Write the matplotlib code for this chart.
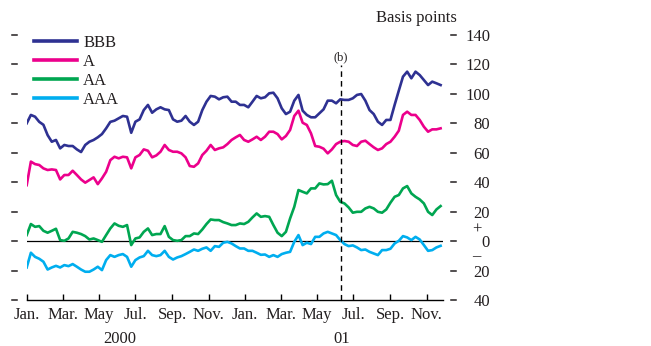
import numpy as np
import matplotlib
matplotlib.use("Agg")
import matplotlib.pyplot as plt
import matplotlib.transforms as mtransforms

plt.rcParams['font.family'] = ['Liberation Serif', 'DejaVu Serif']

# Weekly spreads over government bonds, basis points (from first week of Jan 2000)
start_date = np.datetime64('2000-01-01')
n_weeks = 100

bbb = [80.0, 85.7, 84.5, 81, 79, 72, 67.5, 68.7, 63, 65.3, 64.6, 64.6, 62.3, 60.5, 65.3, 67.5, 68.7, 70.5, 72.7, 76.6, 81, 81.8, 83.4, 85, 84.5,
       73.6, 81.1, 82.7, 89, 92.5, 87.2, 89.5, 90.9, 89.5, 89, 82.7, 81.1, 81.8, 85, 81.1, 78.9, 81.1, 89, 94.7, 98.6, 98.1, 96.3, 97.7, 98.1, 94.7,
       94.7, 92.5, 92.5, 90.9, 94.7, 98.6, 97, 97.7, 100.4, 100.8, 97, 90.2, 86.3, 87.9, 95.4, 99.3, 88.6, 85.7, 84.1, 84.1, 86.8, 89.5, 95.4, 95.4, 93.6,
       96.3, 95.9, 95.9, 97, 99.3, 99.9, 95.4, 89, 86.3, 81.1, 78.9, 82.3, 82.3, 92.5, 102.2, 111.7, 115.1, 110.6, 115.1, 112.8, 109.4, 106, 108.3, 107.2, 106]

a = [38, 54, 52.3, 51.7, 49.4, 48.3, 48.7, 48.3, 41.9, 44.9, 44.9, 47.8, 44.9, 41.9, 39.7, 41.5, 43.3, 38.7, 42.6, 47.1, 55, 57.3, 56.2, 57.3, 56.9,
     49.4, 56.9, 58.5, 62.3, 61.4, 56.9, 58.2, 60.7, 65.3, 61.9, 60.7, 60.7, 59.6, 56.9, 51, 50.5, 52.8, 58.5, 61.4, 65.3, 61.9, 63, 63.7, 65.9, 68.7,
     70.5, 72.1, 68.7, 67.5, 69.1, 70.9, 68.7, 70.9, 74.3, 74.3, 72.7, 69.1, 71.4, 75.5, 85, 88.6, 80.4, 78.9, 73.2, 64.6, 64.1, 62.8, 59.6, 62.3, 65.9,
     67.5, 68, 67.5, 65.3, 64.6, 67.5, 68.2, 65.9, 63.7, 61.9, 63, 65.9, 67.5, 70.9, 75, 85.7, 87.9, 85.7, 85.7, 82.3, 77.7, 74.3, 75.9, 75.9, 76.6]

aa = [4.1, 11.6, 9.7, 10.2, 7, 5.7, 7, 8.4, 0.7, 0.2, 1.8, 6.3, 5.7, 4.8, 3.4, 1.1, 1.8, 0.7, -0.5, 4.1, 8.6, 12, 10.4, 9.7, 10.9,
      -2.7, 1.8, 2.5, 6.3, 8.6, 4.1, 4.8, 4.8, 10.2, 2.9, 0.7, 0.2, 0.7, 3.4, 3.4, 5.2, 4.8, 7.9, 11.6, 14.7, 14.3, 14.3, 12.9, 12, 10.9,
      10.9, 12, 11.6, 13.1, 16.1, 18.8, 16.5, 17, 16.5, 10.9, 5.7, 3.4, 6.3, 15.4, 23.3, 34.7, 33.5, 32.4, 35.8, 35.8, 39.2, 38.5, 38.7, 41, 31.3,
      26.7, 25.6, 22.9, 19.3, 19.9, 19.9, 22.2, 23.3, 22.2, 19.9, 19.3, 21.5, 26.1, 30.1, 31.3, 35.8, 37.4, 32.4, 30.1, 28.3, 25.6, 19.9, 17.7, 21.5, 23.8]

aaa = [-17.9, -7.9, -10.7, -12, -14, -19.3, -17.9, -16.8, -17.9, -16.3, -17, -15.6, -17.4, -19.3, -20.8, -20.8, -19.3, -17.4, -19.7, -12.9, -9.5, -10.7, -9.5, -8.8, -10.7,
       -17.4, -12.9, -11.1, -10.2, -6.6, -9.5, -10.2, -9.5, -6.6, -10.7, -12.5, -11.1, -10.2, -8.8, -7.3, -5.7, -6.6, -5.2, -4.3, -6.6, -3.4, -3.9, -1.1, -0.5, -1.6,
       -3.4, -5, -5, -6.6, -6.6, -7.9, -9.3, -9.1, -10.7, -9.5, -10.7, -8.8, -7.9, -7.3, -0.5, 4.1, -2.7, -1.1, -2, 2.9, 2.9, 5.2, 6.3, 5.2, 4.1,
       0.7, -2, -3.4, -2.9, -4.3, -6.1, -5.7, -7.3, -8.4, -9.5, -6.1, -6.1, -5.2, -1.6, 0.2, 3.4, 2.5, 0.7, 2.9, 1.1, -2.7, -6.6, -6.1, -4.3, -3.2]

series_names = ['BBB', 'A', 'AA', 'AAA']
series_colors = ['#2e3192', '#ec008c', '#00a651', '#00aeef']

tick_months = ['2000-01', '2000-03', '2000-05', '2000-07', '2000-09', '2000-11',
               '2001-01', '2001-03', '2001-05', '2001-07', '2001-09', '2001-11']
tick_labels = ['Jan.', 'Mar.', 'May', 'Jul.', 'Sep.', 'Nov.',
               'Jan.', 'Mar.', 'May', 'Jul.', 'Sep.', 'Nov.']
y_ticks = [-40, -20, 0, 20, 40, 60, 80, 100, 120, 140]
y_labels = ['40', '20', '0', '20', '40', '60', '80', '100', '120', '140']
event_date = np.datetime64('2001-06-10')
event_label = '(b)'

dates = (start_date + np.arange(n_weeks) * np.timedelta64(7, 'D')).astype('datetime64[D]').astype(object)

W, H = 651, 346
fig = plt.figure(figsize=(W / 100, H / 100), dpi=100)
ax_left, ax_right, ax_top, ax_bot = 26.7, 443, 35, 300
ax = fig.add_axes([ax_left / W, 1 - ax_bot / H, (ax_right - ax_left) / W, (ax_bot - ax_top) / H])

text_color = '#231f20'
fs = 12

ax.axhline(0, color='black', lw=0.9, zorder=1)
for vals, name, col in zip([bbb, a, aa, aaa], series_names, series_colors):
    ax.plot(dates, vals, color=col, lw=1.9, label=name, zorder=2, solid_joinstyle='round')

ax.axvline(event_date.astype(object), ymax=(300 - 65) / (300 - 35), color='black', lw=1.0,
           linestyle=(0, (4, 3)), zorder=3)
ax.text(event_date.astype(object), 0.915, event_label, transform=ax.get_xaxis_transform(),
        ha='center', va='center', fontsize=9, color=text_color)

ax.set_xlim(np.datetime64('2000-01-01').astype(object), np.datetime64('2001-11-28').astype(object))
ax.set_ylim(-40, 140)

for s in ['top', 'left', 'right']:
    ax.spines[s].set_visible(False)
ax.spines['bottom'].set_linewidth(1.0)

ax.set_xticks([np.datetime64(m + '-01').astype(object) for m in tick_months])
ax.set_xticklabels(tick_labels, fontsize=fs, color=text_color)
ax.tick_params(axis='x', direction='in', length=4, width=1.0, pad=5)

ax.yaxis.tick_right()
ax.set_yticks(y_ticks)
ax.set_yticklabels(y_labels, fontsize=fs, color=text_color)
ax.tick_params(axis='y', length=0, pad=(490 - ax_right) * 0.72)
for lbl in ax.get_yticklabels():
    lbl.set_horizontalalignment('right')

# short dash marks beside both value scales
span = ax_right - ax_left
blend = mtransforms.blended_transform_factory(ax.transAxes, ax.transData)
for v in y_ticks:
    ax.plot([(12 - ax_left) / span, (17 - ax_left) / span], [v, v], transform=blend,
            color=text_color, lw=1.1, clip_on=False)
    ax.plot([(451 - ax_left) / span, (456 - ax_left) / span], [v, v], transform=blend,
            color=text_color, lw=1.1, clip_on=False)

ax.text((476.7 - ax_left) / span, 7.5, '+', transform=blend, ha='center', va='center',
        fontsize=fs, color=text_color)
ax.text((476.7 - ax_left) / span, -10.5, '\u2013', transform=blend, ha='center', va='center',
        fontsize=fs, color=text_color)

fig.text(457 / W, 1 - 18 / H, 'Basis points', ha='right', va='center', fontsize=fs, color=text_color)
fig.text(120 / W, 1 - 339 / H, '2000', ha='center', va='center', fontsize=fs, color=text_color)
fig.text(341.5 / W, 1 - 339 / H, '01', ha='center', va='center', fontsize=fs, color=text_color)

leg = ax.legend(loc='upper left', bbox_to_anchor=(34 / W, 1 - 35 / H), bbox_transform=fig.transFigure,
                frameon=False, fontsize=fs, handlelength=2.6, handletextpad=0.35,
                labelspacing=0.17, borderpad=0, borderaxespad=0)
for t in leg.get_texts():
    t.set_color(text_color)
for h in leg.get_lines():
    h.set_linewidth(2.6)

fig.savefig('out.png', dpi=100)
